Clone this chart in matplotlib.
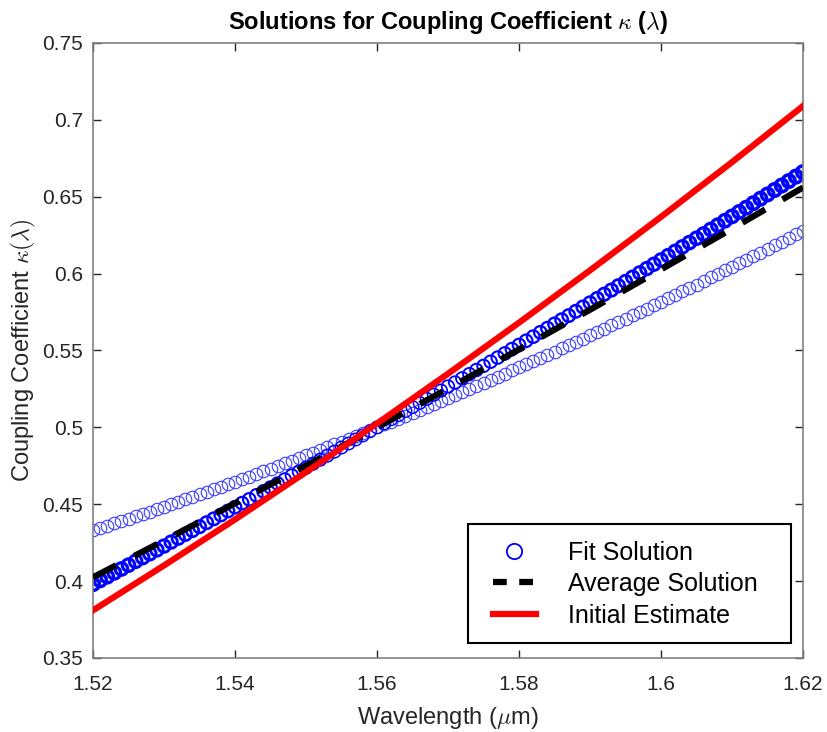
import matplotlib.pyplot as plt
from matplotlib.patches import Rectangle
from matplotlib.ticker import FormatStrFormatter

plt.rcParams['font.family'] = ['Liberation Sans', 'DejaVu Sans']
plt.rcParams['mathtext.fontset'] = 'cm'

# wavelength grid (um), 101 samples 1.520 ... 1.620
wavelength = [round(1.52 + 0.001 * i, 3) for i in range(101)]

# fit solutions
fit_main = [
    0.3980, 0.4005, 0.4029, 0.4054, 0.4079, 0.4104, 0.4129, 0.4153, 0.4178, 0.4203,
    0.4228, 0.4254, 0.4279, 0.4304, 0.4329, 0.4354, 0.4380, 0.4405, 0.4430, 0.4456,
    0.4481, 0.4507, 0.4532, 0.4558, 0.4584, 0.4609, 0.4635, 0.4661, 0.4687, 0.4712,
    0.4738, 0.4764, 0.4790, 0.4816, 0.4842, 0.4869, 0.4895, 0.4921, 0.4947, 0.4974,
    0.5000, 0.5026, 0.5053, 0.5079, 0.5106, 0.5132, 0.5159, 0.5185, 0.5212, 0.5239,
    0.5266, 0.5292, 0.5319, 0.5346, 0.5373, 0.5400, 0.5427, 0.5454, 0.5481, 0.5509,
    0.5536, 0.5563, 0.5590, 0.5618, 0.5645, 0.5673, 0.5700, 0.5727, 0.5755, 0.5783,
    0.5810, 0.5838, 0.5866, 0.5893, 0.5921, 0.5949, 0.5977, 0.6005, 0.6033, 0.6061,
    0.6089, 0.6117, 0.6145, 0.6174, 0.6202, 0.6230, 0.6258, 0.6287, 0.6315, 0.6344,
    0.6372, 0.6401, 0.6429, 0.6458, 0.6487, 0.6515, 0.6544, 0.6573, 0.6602, 0.6631,
    0.6660,
]
fit_other = [
    0.4330, 0.4345, 0.4360, 0.4375, 0.4390, 0.4406, 0.4421, 0.4437, 0.4452, 0.4468,
    0.4484, 0.4500, 0.4516, 0.4532, 0.4548, 0.4564, 0.4580, 0.4597, 0.4613, 0.4630,
    0.4647, 0.4663, 0.4680, 0.4697, 0.4714, 0.4732, 0.4749, 0.4766, 0.4784, 0.4801,
    0.4819, 0.4836, 0.4854, 0.4872, 0.4890, 0.4908, 0.4926, 0.4945, 0.4963, 0.4981,
    0.5000, 0.5019, 0.5037, 0.5056, 0.5075, 0.5094, 0.5113, 0.5132, 0.5152, 0.5171,
    0.5190, 0.5210, 0.5230, 0.5249, 0.5269, 0.5289, 0.5309, 0.5329, 0.5349, 0.5370,
    0.5390, 0.5410, 0.5431, 0.5452, 0.5472, 0.5493, 0.5514, 0.5535, 0.5556, 0.5577,
    0.5599, 0.5620, 0.5642, 0.5663, 0.5685, 0.5707, 0.5728, 0.5750, 0.5772, 0.5794,
    0.5817, 0.5839, 0.5861, 0.5884, 0.5906, 0.5929, 0.5952, 0.5975, 0.5998, 0.6021,
    0.6044, 0.6067, 0.6090, 0.6114, 0.6137, 0.6161, 0.6184, 0.6208, 0.6232, 0.6256,
    0.6280,
]

# average solution and initial estimate (every 0.01 um)
coarse_wl = [1.52, 1.53, 1.54, 1.55, 1.56, 1.57, 1.58, 1.59, 1.60, 1.61, 1.62]
avg_sol = [0.4025, 0.4264, 0.4506, 0.4751, 0.5000, 0.5252, 0.5507, 0.5765, 0.6027, 0.6292, 0.6560]
init_est = [0.381, 0.4102, 0.4401, 0.4709, 0.5025, 0.5349, 0.5681, 0.6021, 0.6369, 0.6725, 0.709]

fig = plt.figure(figsize=(8.27, 7.32), dpi=100)
ax = fig.add_axes([0.1125, 0.1011, 0.8585, 0.8402])

ms = 9
ax.plot(wavelength, fit_other, 'o', mfc='none', mec='#3c3cff', mew=0.8, ms=ms)
# several near-identical fits overlap here: thicker rings where they spread apart
spread = [0.9 + 45 * abs(a - b) for a, b in zip(fit_main, fit_other)]
ax.scatter(wavelength, fit_main, s=ms ** 2, facecolors='none', edgecolors='#0000ff',
           linewidths=spread, zorder=2)
ax.plot(coarse_wl, avg_sol, '--', color='black', lw=4.5, dashes=(4.2, 3.2), zorder=3)
ax.plot(coarse_wl, init_est, '-', color='#ff0000', lw=4.5, zorder=4)

ax.set_xlim(1.52, 1.62)
ax.set_ylim(0.35, 0.75)
ax.set_xticks([1.52, 1.54, 1.56, 1.58, 1.60, 1.62])
ax.set_yticks([0.35, 0.40, 0.45, 0.50, 0.55, 0.60, 0.65, 0.70, 0.75])
ax.xaxis.set_major_formatter(FormatStrFormatter('%g'))
ax.yaxis.set_major_formatter(FormatStrFormatter('%g'))
ax.tick_params(direction='in', top=True, right=True, labelsize=15, colors='#262626',
               length=6, width=1)
ax.tick_params(axis='x', pad=12)
ax.tick_params(axis='y', pad=7)
for s in ax.spines.values():
    s.set_color('#808080')
    s.set_linewidth(1.2)

ax.set_xlabel(r'Wavelength ($\mu$m)', fontsize=17, color='#262626', labelpad=8)
ax.set_ylabel(r'Coupling Coefficient $\kappa(\lambda)$', fontsize=17, color='#262626', labelpad=3)
ax.set_title(r'Solutions for Coupling Coefficient $\kappa$ ($\lambda$)', fontsize=17,
             fontweight='bold', pad=10)

# legend box drawn separately so its padding can match the MATLAB look
ax.add_patch(Rectangle((0.528, 0.0244), 0.455, 0.1935, transform=ax.transAxes,
                       facecolor='white', edgecolor='black', lw=1.5, zorder=6))
handles = [
    plt.Line2D([], [], ls='none', marker='o', mfc='none', mec='#0000ff', mew=1.3, ms=11),
    plt.Line2D([], [], ls='--', color='black', lw=4.5, dashes=(2.2, 2.0)),
    plt.Line2D([], [], ls='-', color='#ff0000', lw=4.5),
]
labels = ['Fit Solution', 'Average Solution', 'Initial Estimate']
leg = ax.legend(handles, labels, loc='center left', bbox_to_anchor=(0.5634, 0.1203),
                borderaxespad=0, borderpad=0, fontsize=18, frameon=False,
                handlelength=1.7, labelspacing=0.3, handletextpad=1.3)
leg.set_zorder(7)

fig.savefig('out.png', dpi=100)
